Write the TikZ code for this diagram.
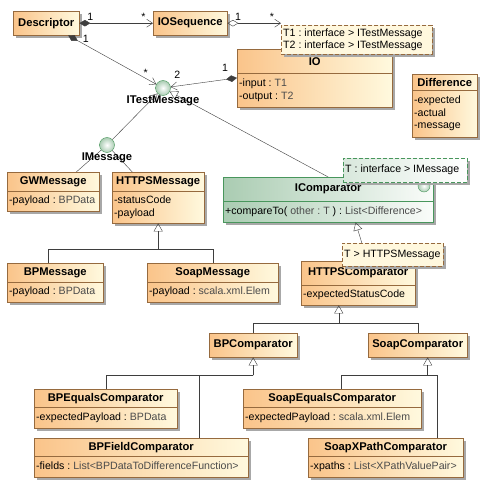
\documentclass[tikz,border=0pt]{standalone}
\usepackage{fontspec}
\setmainfont{Liberation Sans}
\usetikzlibrary{%
	positioning,%
	calc,%
	shadows,%
	arrows.meta%
}
\definecolor{classleft}{RGB}{250,196,138}
\definecolor{classright}{RGB}{255,249,222}
\definecolor{classborder}{RGB}{150,106,62}
\definecolor{ifaceleft}{RGB}{170,204,178}
\definecolor{ifaceright}{RGB}{250,252,250}
\definecolor{ifaceborder}{RGB}{72,150,92}
\definecolor{tmplfill}{RGB}{255,248,222}
\definecolor{shadowgray}{RGB}{168,168,168}
\definecolor{linegray}{RGB}{62,62,62}
\definecolor{typegray}{RGB}{75,75,75}
\newcommand{\typ}[1]{\textcolor{typegray}{#1}}
\newcommand{\leftlines}[2]{\makebox[#1][l]{\begin{tabular}{@{}l@{}}#2\end{tabular}}}
\tikzset{
	classshadow/.style={drop shadow={shadow xshift=3pt,shadow yshift=-3pt,fill=shadowgray,opacity=1}},
	classhead/.style={draw=classborder,left color=classleft,right color=classright,classshadow,
		anchor=north west,inner sep=2pt,font=\fontsize{11.2}{13.4}\selectfont\bfseries},
	classbody/.style={draw=classborder,left color=classleft,right color=classright,classshadow,
		anchor=north west,inner sep=2pt},
	ifaceclass/.style={draw=ifaceborder,left color=ifaceleft,right color=ifaceright},
	tmpl/.style={draw=classborder,dash pattern=on 4pt off 2pt,fill=tmplfill,classshadow,
		anchor=north west,inner sep=2pt},
	ifacetmpl/.style={draw=ifaceborder,left color=ifaceleft!45!white,right color=white},
	iface/.style={circle,draw=ifaceborder,inner color=white,outer color=ifaceleft,
		minimum size=15pt,inner sep=0pt},
	ifacelabel/.style={inner sep=0pt,font=\fontsize{11.2}{13.4}\selectfont\bfseries},
	link/.style={draw=linegray},
	comp/.style={draw=linegray,{Diamond[length=11pt,width=6.5pt]}-{Straight Barb[length=6pt,width=8pt]}},
	shared/.style={draw=linegray,{Diamond[open,length=11pt,width=6.5pt]}-{Straight Barb[length=6pt,width=8pt]}},
	gen/.style={draw=linegray,-{Triangle[open,length=8pt,width=9pt]}},
	mult/.style={inner sep=2pt}
}
% class with a name part and an attribute part
\newcommand{\umlclass}[9][]{%
	\pgfmathsetmacro{\clw}{#5-#3}%
	\pgfmathsetmacro{\clt}{#5-#3-4}%
	\node[classhead,#1,minimum width=\clw pt,minimum height={#6-#4}] (#2) at (#3,#4) {#8};
	\node[classbody,#1,minimum width=\clw pt,minimum height={#7-#6}] (#2-body) at (#3,#6) {\leftlines{\clt pt}{#9}};
}

\begin{document}
\frenchspacing
\begin{tikzpicture}[x=1pt,y=-1pt,font=\fontsize{10.6}{12.6}\selectfont]
	\path[use as bounding box,fill=white] (0,0) rectangle (488,489);

	\node[classhead,minimum width=66pt,minimum height=24pt] (desc) at (13,11) {Descriptor};
	\node[classhead,minimum width=74pt,minimum height=24pt] (ioseq) at (153,11) {IOSequence};
	\umlclass{io}{237}{49}{392}{73}{107}{IO}{-input : \typ{T1}\\-output : \typ{T2}}
	\umlclass{diff}{412}{74}{477}{90}{137}{Difference}{-expected\\-actual\\-message}
	\umlclass{gwmsg}{7}{172}{99}{191}{211}{GWMessage}{-payload : \typ{BPData}}
	\umlclass{httpsmsg}{112}{172}{204}{191}{223}{HTTPSMessage}{-statusCode\\-payload}
	\umlclass{bpmsg}{7}{263}{103}{282}{302}{BPMessage}{-payload : \typ{BPData}}
	\umlclass{soapmsg}{147}{263}{278}{282}{302}{SoapMessage}{-payload : \typ{scala.xml.Elem}}
	\umlclass[ifaceclass]{icomp}{223}{177}{433}{201}{222}{IComparator}{+compareTo( \typ{other : T} ) : \typ{List<Difference>}}
	\node[iface,minimum size=12pt] (icompball) at (424,186) {};
	\umlclass{hcomp}{301}{261}{415}{285}{305}{HTTPSComparator}{-expectedStatusCode}
	\node[classhead,minimum width=88pt,minimum height=24pt] (bpcomp) at (209,333) {BPComparator};
	\node[classhead,minimum width=99pt,minimum height=24pt] (soapcomp) at (368,333) {SoapComparator};
	\umlclass{bpeq}{34}{389}{177}{407}{428}{BPEqualsComparator}{-expectedPayload : \typ{BPData}}
	\umlclass{bpfield}{34}{438}{248}{456}{477}{BPFieldComparator}{-fields : \typ{List<BPDataToDifferenceFunction>}}
	\umlclass{soapeq}{243}{389}{421}{407}{428}{SoapEqualsComparator}{-expectedPayload : \typ{scala.xml.Elem}}
	\umlclass{soapxp}{308}{438}{463}{456}{477}{SoapXPathComparator}{-xpaths : \typ{List<XPathValuePair>}}

	\node[iface] (itest) at (163,88) {};
	\node[iface] (imsg) at (107,145) {};

	\draw[comp] (desc) -- (ioseq) node[mult,pos=.15,above] {1} node[mult,pos=.87,above] {*};
	\draw[shared] (ioseq) -- (ioseq -| 281,0) node[mult,pos=.2,above] {1} node[mult,pos=.83,above] {*};
	\draw[comp] (desc) -- (itest) node[mult,pos=.2,above] {1} node[mult,pos=.88,above] {*};
	\draw[comp] (io-body.171) -- (itest) node[mult,pos=.18,above=6pt] {1} node[mult,pos=.9,above=5pt] {2};
	\draw[gen] (imsg) -- (itest);
	\draw[gen] (icomp.north) -- (itest);
	\draw[link] ($(gwmsg.north)!.5!(gwmsg.north east)$) -- (imsg);
	\draw[link] ($(httpsmsg.north west)!.22!(httpsmsg.north east)$) -- (imsg);

	\coordinate (httpsj) at ($(httpsmsg-body.south)+(0,26)$);
	\draw[gen] (httpsj) -- (httpsmsg-body.south);
	\draw[link] ([xshift=-7pt]bpmsg.north) |- (httpsj) -| (soapmsg.north);

	\draw[gen] ($(hcomp.north west)!.58!(hcomp.north east)$) -- ($(icomp-body.south west)!.63!(icomp-body.south east)$);

	\coordinate (hcompb) at ($(hcomp-body.south west)!.33!(hcomp-body.south east)$);
	\coordinate (hcompj) at ($(hcompb)+(0,18)$);
	\draw[gen] (hcompj) -- (hcompb);
	\draw[link] (bpcomp.north) |- (hcompj) -| (soapcomp.north);

	\coordinate (bpcompj) at ($(bpcomp.south)+(0,18)$);
	\draw[gen] (bpcompj) -- (bpcomp.south);
	\draw[link] (bpeq.north) |- (bpcompj) -| ($(bpfield.north west)!.77!(bpfield.north east)$);

	\coordinate (soapb) at ($(soapcomp.south west)!.6!(soapcomp.south east)$);
	\coordinate (soapj) at ($(soapb)+(0,18)$);
	\draw[gen] (soapj) -- (soapb);
	\draw[link] ($(soapeq.north west)!.55!(soapeq.north east)$) |- (soapj) -| ($(soapxp.north west)!.83!(soapxp.north east)$);

	\node[tmpl,minimum width=151pt,minimum height=29pt] (iotmpl) at (281,25)
		{\leftlines{147pt}{T1 : interface > ITestMessage\\T2 : interface > ITestMessage}};
	\node[tmpl,ifacetmpl,minimum width=124pt,minimum height=24pt] (icomptmpl) at (343,158)
		{\leftlines{120pt}{T : interface > IMessage}};
	\node[tmpl,minimum width=101pt,minimum height=23pt] (hcomptmpl) at (342,243)
		{\leftlines{97pt}{T > HTTPSMessage}};

	\node[ifacelabel,below=0pt of itest] (itest-label) {ITestMessage};
	\node[ifacelabel,below=0pt of imsg] (imsg-label) {IMessage};
\end{tikzpicture}
\end{document}
